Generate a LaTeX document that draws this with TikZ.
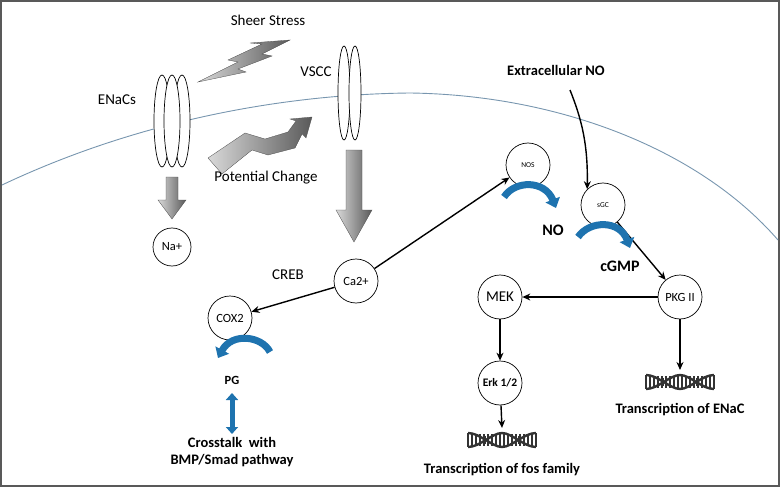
\documentclass[tikz,border=0pt]{standalone}
\usepackage{fontspec}
\setmainfont{Carlito}
\usetikzlibrary{arrows.meta,calc}
\definecolor{bl}{RGB}{30,115,175}
\definecolor{mem}{RGB}{120,150,175}
\begin{document}
\begin{tikzpicture}[x=1pt,y=-1pt,
  mol/.style={circle,draw,line width=0.7pt,minimum size=44pt,inner sep=0pt,font=\fontsize{12.5}{13}\selectfont},
  lab/.style={font=\fontsize{15}{17}\selectfont,inner sep=1pt},
  blab/.style={font=\bfseries\fontsize{14.5}{17}\selectfont,inner sep=1pt,align=center},
  arr/.style={-{Stealth[length=8pt,width=7pt]},line width=1.4pt},
  chan/.style={draw,line width=0.7pt,fill=white},
  grey/.style={draw=gray!60!black,line width=0.3pt,left color=gray!30,right color=gray!70!black},
  barr/.style={line width=7pt,color=bl,-{Triangle[length=9pt,width=15pt]}}]
\useasboundingbox (0,0) rectangle (780,487);
\draw[line width=2pt,gray!70!black] (1,1) rectangle (779,486);
% membrane
\draw[mem,line width=0.9pt] (2,185) .. controls (150,115) and (300,94) .. (410,93)
  .. controls (560,95) and (700,150) .. (778,240);
% ENaCs
\foreach \x in {162,182,172} \draw[chan] (\x,121) ellipse (8pt and 46pt);
\node[lab] (enac) at (117,100) {ENaCs};
% VSCC
\foreach \x in {344,355} \draw[chan] (\x,93) ellipse (6pt and 47pt);
\node[lab] (vscc) at (316,72) {VSCC};
\node[lab] (ss) at (268,20) {Sheer Stress};
% lightning
\draw[grey] (198,82) -- (238,62) -- (228,60) -- (262,44) -- (250,43) -- (290,40)
  -- (262,54) -- (272,56) -- (238,69) -- (246,72) -- cycle;
% potential change arrow
\draw[grey] (208,158) -- (245,133) -- (265,139) -- (288,132) -- (296,121) -- (290,119) -- (312,117)
  -- (306,138) -- (302,134) -- (295,148) -- (268,155) -- (252,150) -- (222,174) -- cycle;
\node[lab] (pc) at (266,178) {Potential Change};
% grey down arrows
\draw[grey] (166,177) -- (178,177) -- (178,200) -- (186,200) -- (172,219) -- (158,200) -- (166,200) -- cycle;
\draw[grey] (346,150) -- (362,150) -- (362,210) -- (372,210) -- (354,242) -- (336,210) -- (346,210) -- cycle;
% molecules
\node[mol,minimum size=38pt] (na) at (172,247) {Na+};
\node[mol] (ca) at (356,281) {Ca2+};
\node[mol] (nos) at (528,165) {\fontsize{7.5}{8}\selectfont NOS};
\node[mol] (sgc) at (603,205) {\fontsize{7.5}{8}\selectfont sGC};
\node[mol] (mek) at (500,297) {\fontsize{15}{16}\selectfont MEK};
\node[mol] (pkg) at (680,297) {PKG II};
\node[mol] (cox) at (230,318) {COX2};
\node[mol] (erk) at (500,383) {\bfseries\fontsize{11.5}{12}\selectfont Erk 1/2};
\node[lab] (creb) at (288,275) {CREB};
\node[blab,font=\bfseries\fontsize{16}{17}\selectfont] (no) at (553,230) {NO};
\node[blab,font=\bfseries\fontsize{16}{17}\selectfont] (cgmp) at (620,266) {cGMP};
\node[blab,font=\bfseries\fontsize{12.5}{13}\selectfont] (pg) at (232,380) {PG};
\node[blab] (cross) at (232,452) {Crosstalk \ with\\BMP/Smad pathway};
\node[blab] (eno) at (556,70) {Extracellular NO};
\node[blab] (tenac) at (680,410) {Transcription of ENaC};
\node[blab] (tfos) at (502,470) {Transcription of fos family};
% DNA
\foreach \cx/\cy in {680/382,502/440}{
  \begin{scope}[shift={(\cx,\cy)}]
    \foreach \r in {-30,-26,...,30} \draw[line width=1.8pt,gray!40!black] (\r,-6) -- (\r,6);
    \draw[line width=2.4pt,black!80] (-34,-7) .. controls (-22,-7) and (-10,7) .. (0,7) .. controls (10,7) and (22,-7) .. (34,-7);
    \draw[line width=2.4pt,black!80] (-34,7) .. controls (-22,7) and (-10,-7) .. (0,-7) .. controls (10,-7) and (22,7) .. (34,7);
    \draw[line width=2.4pt,black!80] (-34,-7)--(-34,7) (34,-7)--(34,7) (-17,-4)--(-17,4) (17,-4)--(17,4);
  \end{scope}}
\coordinate (d1) at (680,370);
\coordinate (d2) at (502,428);
\coordinate (e1) at (570,90);
% connectors
\draw[arr] (ca) -- (nos);
\draw[arr] (ca) -- (cox);
\draw[arr] (e1) .. controls (582,120) and (588,145) .. (sgc.north west);
\draw[arr] (sgc) -- (pkg);
\draw[arr] (pkg) -- (mek);
\draw[arr] (mek) -- (erk);
\draw[arr] (erk) -- (d2);
\draw[arr] (pkg) -- (d1);
% blue curved arrows
\draw[barr] (504,197) .. controls (515,180) and (545,180) .. (556,208);
\draw[barr] (578,237) .. controls (590,220) and (620,220) .. (630,248);
\draw[barr] (270,352) .. controls (262,336) and (232,332) .. (218,358);
\draw[line width=5pt,color=bl,{Triangle[length=7pt,width=12pt]}-{Triangle[length=7pt,width=12pt]}] (232,393) -- (232,434);
\end{tikzpicture}
\end{document}
